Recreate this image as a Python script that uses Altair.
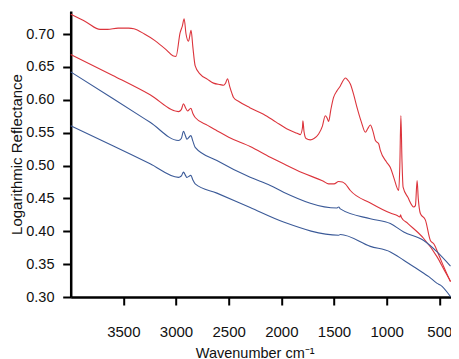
import altair as alt
import pandas as pd

# Series readings (wavenumber, logarithmic reflectance)
red_top_wn = [4000, 3850, 3721, 3650, 3550, 3450, 3400, 3300, 3200, 3100, 3030, 3000,
              2961, 2940, 2923, 2905, 2882, 2857, 2840, 2818, 2771, 2700, 2644, 2580,
              2549, 2530, 2511, 2490, 2470, 2454, 2400, 2300, 2169, 2050, 1950, 1850,
              1820, 1800, 1795, 1785, 1765, 1725, 1690, 1646, 1610, 1583, 1565, 1551,
              1530, 1504, 1470, 1440, 1410, 1393, 1375, 1345, 1310, 1281, 1240, 1202,
              1180, 1155, 1130, 1107, 1076, 1060, 1000, 965, 933, 886, 875, 865, 855,
              844, 800, 743, 727, 711, 700, 680, 632, 585, 553, 500, 458, 394]
red_top_val = [0.730, 0.718, 0.707, 0.707, 0.709, 0.709, 0.708, 0.700, 0.690, 0.677, 0.667, 0.666,
               0.702, 0.712, 0.723, 0.700, 0.689, 0.7055, 0.680, 0.6515, 0.639, 0.631, 0.6253, 0.623,
               0.622, 0.625, 0.632, 0.620, 0.610, 0.6035, 0.597, 0.588, 0.578, 0.566, 0.556, 0.549,
               0.547, 0.557, 0.568, 0.552, 0.541, 0.539, 0.541, 0.548, 0.560, 0.5757, 0.572, 0.567,
               0.585, 0.6035, 0.614, 0.621, 0.630, 0.633, 0.631, 0.624, 0.606, 0.588, 0.566, 0.5505,
               0.556, 0.5617, 0.552, 0.538, 0.533, 0.523, 0.505, 0.497, 0.482, 0.462, 0.500, 0.576, 0.510,
               0.467, 0.452, 0.437, 0.439, 0.477, 0.450, 0.427, 0.417, 0.386, 0.381, 0.362, 0.346, 0.323]

red_low_wn = [4000, 3600, 3246, 2977, 2950, 2929, 2910, 2891, 2859, 2840, 2818, 2700,
              2612, 2500, 2296, 2105, 1979, 1800, 1600, 1551, 1500, 1456, 1420, 1393,
              1345, 1155, 965, 900, 875, 868, 860, 800, 648, 521, 450, 394]
red_low_val = [0.669, 0.637, 0.6076, 0.582, 0.585, 0.594, 0.588, 0.583, 0.587, 0.579, 0.573, 0.561,
               0.553, 0.543, 0.529, 0.5126, 0.5026, 0.489, 0.476, 0.472, 0.472, 0.4757, 0.475, 0.472,
               0.462, 0.443, 0.4277, 0.424, 0.4217, 0.425, 0.421, 0.412, 0.389, 0.361, 0.340, 0.324]

blue_top_wn = [4000, 3600, 3246, 2977, 2950, 2929, 2910, 2897, 2859, 2840, 2818, 2612,
               2296, 2105, 1979, 1471, 1455, 1440, 1155, 965, 838, 648, 521, 394]
blue_top_val = [0.6424, 0.602, 0.5657, 0.538, 0.541, 0.552, 0.545, 0.540, 0.5455, 0.537, 0.5277, 0.5076,
                0.482, 0.4697, 0.4595, 0.4353, 0.437, 0.434, 0.419, 0.4117, 0.399, 0.386, 0.3686, 0.347]

blue_low_wn = [4000, 3600, 3246, 2977, 2950, 2929, 2910, 2897, 2859, 2840, 2818, 2612,
               2296, 1979, 1456, 1440, 1155, 965, 838, 648, 600, 521, 489, 394]
blue_low_val = [0.5606, 0.530, 0.5026, 0.482, 0.484, 0.490, 0.485, 0.482, 0.485, 0.478, 0.472, 0.458,
                0.436, 0.414, 0.394, 0.395, 0.377, 0.3686, 0.356, 0.336, 0.331, 0.3207, 0.318, 0.3005]

series_names = ["red_top", "red_low", "blue_top", "blue_low"]
series_colors = ["#dc343c", "#dc343c", "#3b5a98", "#3b5a98"]

x_ticks = [3500, 3000, 2500, 2000, 1500, 1000, 500]
y_ticks = [0.30, 0.35, 0.40, 0.45, 0.50, 0.55, 0.60, 0.65, 0.70]

rows = []
for name, wns, vals in [("red_top", red_top_wn, red_top_val),
                        ("red_low", red_low_wn, red_low_val),
                        ("blue_top", blue_top_wn, blue_top_val),
                        ("blue_low", blue_low_wn, blue_low_val)]:
    for w, v in zip(wns, vals):
        rows.append({"series": name, "wn": w, "val": v})
df = pd.DataFrame(rows)

FONT = "Liberation Sans"

chart = alt.Chart(df).mark_line(strokeWidth=1.1, interpolate="monotone").encode(
    x=alt.X("wn:Q",
            scale=alt.Scale(domain=[392, 4000], reverse=True, nice=False, zero=False),
            axis=alt.Axis(values=x_ticks, format="d", title="Wavenumber cm⁻¹", grid=False,
                          labelFontSize=15, labelBaseline="alphabetic", labelPadding=31,
                          titleFontSize=14.5, titleBaseline="alphabetic",
                          titleX=184, titleY=60, titleAlign="center")),
    y=alt.Y("val:Q",
            scale=alt.Scale(domain=[0.30, 0.735], nice=False, zero=False),
            axis=alt.Axis(values=y_ticks, format=".2f", title="Logarithmic Reflectance", grid=False,
                          labelFontSize=14.5, labelPadding=8.7,
                          titleFontSize=15, titleBaseline="alphabetic",
                          titleX=-49.5, titleY=143, titleAlign="center", titleAngle=-90)),
    color=alt.Color("series:N", scale=alt.Scale(domain=series_names, range=series_colors), legend=None),
).properties(
    width=380, height=286,
    autosize=alt.AutoSizeParams(type="none"),
    padding={"left": 62.7, "top": 3, "right": 0.3, "bottom": 62},
).configure_view(stroke=None).configure_axis(
    domainColor="black", domainWidth=2.5, tickColor="black", tickWidth=2, tickSize=8,
    labelColor="#111111", titleColor="#111111", labelFont=FONT, titleFont=FONT,
    titleFontWeight="normal",
)

chart.save("out.html", embed_options={"renderer": "svg", "actions": False})
